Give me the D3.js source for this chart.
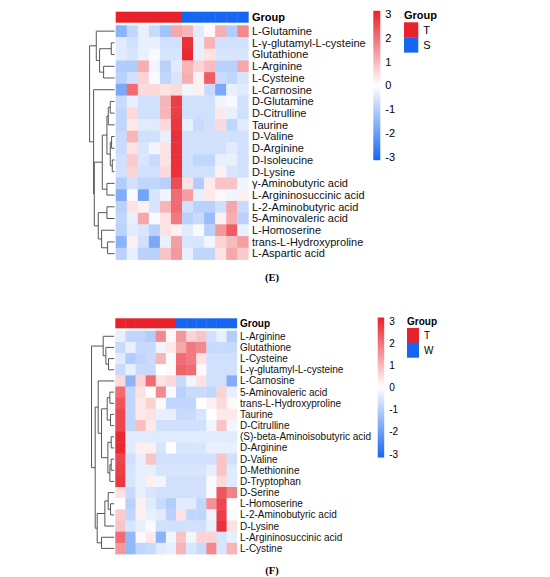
<!DOCTYPE html>
<html>
<head>
<meta charset="utf-8">
<script src="https://cdn.jsdelivr.net/npm/d3@7"></script>
<style>
  body { margin: 0; background: #fff; }
  svg { display: block; }
</style>
</head>
<body>
<div id="chart"></div>
<script>
// ---- panel E data ----
const rowsE = ['L-Glutamine', 'L-γ-glutamyl-L-cysteine', 'Glutathione', 'L-Arginine', 'L-Cysteine',
  'L-Carnosine', 'D-Glutamine', 'D-Citrulline', 'Taurine', 'D-Valine', 'D-Arginine', 'D-Isoleucine',
  'D-Lysine', 'γ-Aminobutyric acid', 'L-Argininosuccinic acid', 'L-2-Aminobutyric acid',
  '5-Aminovaleric acid', 'L-Homoserine', 'trans-L-Hydroxyproline', 'L-Aspartic acid'];
const groupE = ['T', 'T', 'T', 'T', 'T', 'T', 'S', 'S', 'S', 'S', 'S', 'S'];
const valuesE = [
  [-1.5, -0.8, -0.3, -0.7, -1.2, 1.2, 1.0, -0.4, 0.1, 1.1, -1.0, 1.6],
  [-0.4, -0.6, -0.3, -0.3, -0.6, -0.6, 2.8, -0.3, 1.0, -0.6, -0.6, -0.6],
  [-0.4, -0.5, -0.3, -0.1, -0.5, -0.5, 2.9, -0.3, 0.4, -0.5, -0.5, -0.5],
  [-1.0, -1.0, 1.1, -0.2, -0.9, -0.4, 1.0, 0.6, 0.9, -0.9, -0.9, 1.2],
  [-0.9, -0.6, 0.6, -0.1, -0.8, -0.5, 1.1, 0.2, 2.2, -0.7, -0.8, -0.5],
  [-1.7, 2.0, 0.5, 0.5, 0.4, 0.5, -0.2, 0.2, -0.7, -1.7, -0.3, -0.4],
  [-0.7, -0.3, -0.6, -0.6, 1.0, 2.6, -0.6, -0.6, -0.6, -0.2, -0.1, -0.6],
  [-0.8, 0.5, -0.6, -0.6, 1.0, 2.6, -0.6, -0.6, -0.6, 0.3, -0.3, -0.6],
  [-0.8, 0.3, -0.4, -0.4, 0.5, 2.7, -0.3, -0.7, -0.6, 0.5, -0.8, -0.4],
  [-0.7, 1.0, -0.6, -0.6, -0.3, 2.8, -0.6, -0.6, -0.6, -0.6, -0.6, -0.6],
  [-0.7, 0.4, -0.5, -0.2, 0.4, 2.8, -0.6, -0.6, -0.6, -0.6, -0.4, -0.6],
  [-0.6, 0.7, -0.5, -0.7, 0.4, 2.8, -0.6, -0.8, -0.8, -0.3, -0.3, -0.6],
  [-0.6, 0.6, -0.6, -0.6, 0.5, 2.8, -0.6, -0.6, -0.6, 0.2, -0.5, -0.6],
  [-1.0, -0.6, -0.8, -0.8, -0.9, 2.4, 0.4, -1.0, 0.3, 0.8, 0.8, -0.2],
  [-1.6, -0.1, -1.8, -0.5, -0.2, 2.0, 1.3, -0.3, 0.3, 0.1, -0.2, 0.2],
  [-0.9, 0.4, 0.2, -0.5, 1.0, 2.0, -0.6, -0.9, -0.9, -0.6, 1.2, -0.7],
  [-0.8, -0.3, 1.2, -0.1, 0.4, 1.8, -0.9, -0.7, -1.3, 0.2, 1.1, -0.9],
  [-0.9, -0.4, -0.5, -0.9, 0.4, 0.2, -0.4, -0.1, -0.9, 1.4, 2.2, -0.3],
  [-1.5, 0.2, -0.6, -1.7, -0.3, 1.3, -0.5, -0.5, -0.2, 0.6, 0.9, 1.3],
  [-0.9, -0.3, -0.9, -0.9, 0.8, 1.4, -0.3, -0.8, -0.8, 0.4, 1.2, 0.7]
];
// hclust-style merges: negative = leaf (1-based row), positive = earlier merge; third = height
const mergeE = [
  [-2, -3, 10], [-4, -5, 33], [1, 2, 45], [-1, 3, 55],
  [-7, -8, 13], [5, -9, 19], [-10, -11, 9], [-12, -13, 7], [7, 8, 13], [6, 9, 23],
  [-14, -15, 23], [10, 11, 37], [-16, -17, 23], [-19, -20, 21], [-18, 14, 39],
  [13, 15, 49], [12, 16, 61], [-6, 17, 63], [4, 18, 75]
];

// ---- panel F data ----
const rowsF = ['L-Arginine', 'Glutathione', 'L-Cysteine', 'L-γ-glutamyl-L-cysteine', 'L-Carnosine',
  '5-Aminovaleric acid', 'trans-L-Hydroxyproline', 'Taurine', 'D-Citrulline',
  '(S)-beta-Aminoisobutyric acid', 'D-Arginine', 'D-Valine', 'D-Methionine', 'D-Tryptophan',
  'D-Serine', 'L-Homoserine', 'L-2-Aminobutyric acid', 'D-Lysine', 'L-Argininosuccinic acid', 'L-Cystine'];
const groupF = ['T', 'T', 'T', 'T', 'T', 'T', 'W', 'W', 'W', 'W', 'W', 'W'];
const valuesF = [
  [-0.3, -0.8, -0.8, -1.0, 1.6, 0.1, 1.4, 0.6, 0.8, -0.6, -0.3, -1.0],
  [-0.7, -0.3, -0.7, -0.7, -0.2, 0.3, 1.2, 1.8, 1.6, -0.7, -0.7, -0.7],
  [-0.4, -1.0, -0.8, -0.7, 1.0, -0.1, 2.0, 1.8, 0.4, -0.6, -0.6, -0.6],
  [-0.7, -0.3, -0.7, -0.7, 0.0, 0.1, 2.1, 2.0, 0.1, -0.6, -0.6, -0.6],
  [0.5, -1.5, 0.6, 2.0, 0.4, 0.5, -0.7, -0.2, 0.4, -0.6, -0.6, -1.6],
  [2.0, -0.8, 0.4, 0.0, 1.6, -0.1, -0.9, -0.7, -0.7, -0.8, 0.6, -0.3],
  [2.3, -0.8, 0.3, 0.6, 0.1, -0.8, -0.8, -0.8, 0.0, 0.2, 0.5, 0.1],
  [2.5, -0.8, 0.3, 0.4, -0.3, -0.3, -0.7, -0.7, -0.5, 0.0, 0.3, 0.3],
  [2.5, -0.8, 0.9, 0.3, -0.6, -0.6, -0.6, -0.6, -0.6, -0.2, 0.8, -0.2],
  [2.9, -0.4, -0.4, -0.4, -0.4, -0.4, -0.4, -0.4, -0.4, -0.4, -0.4, -0.4],
  [2.9, -0.4, 0.2, 0.2, -0.5, 0.0, -0.5, -0.5, -0.5, -0.3, -0.3, -0.3],
  [2.5, -0.6, -0.3, 0.8, -0.6, -0.6, -0.6, -0.6, -0.6, -0.6, 0.8, -0.6],
  [2.6, -0.5, -0.3, -0.3, -0.5, -0.5, -0.5, -0.5, -0.5, -0.3, 0.8, -0.4],
  [2.7, -0.5, -0.3, 0.2, -0.2, -0.6, -0.6, -0.6, -0.6, -0.1, 0.5, -0.4],
  [0.4, -0.7, -0.3, -0.5, -0.6, -0.6, -0.6, -0.6, -0.6, -0.1, 2.3, 1.7],
  [0.0, -0.9, 0.2, -0.4, -0.7, -1.0, -0.4, -0.4, -0.8, 1.5, 2.5, 0.0],
  [0.7, -0.8, 0.2, -0.3, -0.4, -0.9, 0.4, -0.8, -0.8, -0.2, 2.6, -0.1],
  [0.8, -0.5, -0.3, -0.1, -0.6, -0.6, -0.6, -0.6, -0.6, -0.3, 2.8, 0.4],
  [2.0, -1.4, 0.1, 0.3, -1.5, -0.2, 0.8, -0.2, 0.6, 0.6, -0.5, -0.3],
  [1.4, -1.4, -0.8, -0.7, -0.4, -0.3, 1.0, -0.5, -0.7, 1.6, -0.5, 1.0]
];
const mergeF = [
  [-3, -4, 17], [-2, 1, 25], [-1, 2, 33],
  [-6, -7, 13], [-8, -9, 11], [4, 5, 21],
  [-10, -11, 9], [-12, -13, 9], [8, -14, 13], [7, 9, 19], [6, 10, 38], [-5, 11, 48],
  [-16, -17, 11], [-15, 13, 18], [14, -18, 28], [-19, -20, 38], [15, 16, 51],
  [12, 17, 57], [3, 18, 68]
];

const legendTicks = [3, 2, 1, 0, -1, -2, -3];

const RED = '#E8222B';
const BLUE = '#1766F2';
const groupColor = { T: RED, S: BLUE, W: BLUE };
const color = d3.scaleLinear().domain([-3, 0, 3]).range([BLUE, '#ffffff', RED]);

const svg = d3.select('#chart')
  .append('svg')
  .attr('width', 550)
  .attr('height', 577);

const defs = svg.append('defs');
const grad = defs.append('linearGradient')
  .attr('id', 'cbar')
  .attr('x1', 0).attr('y1', 1).attr('x2', 0).attr('y2', 0);
d3.range(0, 1.0001, 0.1).forEach(t => {
  grad.append('stop')
    .attr('offset', t)
    .attr('stop-color', color(-3 + 6 * t));
});

function drawPanel(cfg, rows, groups, values, merge, caption) {
  const g = svg.append('g');

  const x = d3.scaleBand().domain(d3.range(groups.length)).range([cfg.x0, cfg.x1]);
  const y = d3.scaleBand().domain(rows).range([cfg.y0, cfg.y1]);

  // annotation bar
  g.append('g').selectAll('rect')
    .data(groups)
    .join('rect')
    .attr('x', (d, i) => x(i))
    .attr('y', cfg.gy0)
    .attr('width', x.bandwidth() + 0.4)
    .attr('height', cfg.gy1 - cfg.gy0)
    .attr('fill', d => groupColor[d]);

  g.append('text')
    .attr('x', cfg.labelX)
    .attr('y', (cfg.gy0 + cfg.gy1) / 2)
    .attr('dy', '0.35em')
    .style('font', `bold ${cfg.font}px "Liberation Sans", Arial, sans-serif`)
    .text('Group');

  // cells
  const cells = [];
  values.forEach((row, r) => row.forEach((v, c) => cells.push({ r, c, v })));
  g.append('g').selectAll('rect')
    .data(cells)
    .join('rect')
    .attr('x', d => x(d.c))
    .attr('y', d => y(rows[d.r]))
    .attr('width', x.bandwidth() + 0.4)
    .attr('height', y.bandwidth() + 0.4)
    .attr('fill', d => color(d.v));

  // row labels
  g.append('g').selectAll('text')
    .data(rows)
    .join('text')
    .attr('x', cfg.labelX)
    .attr('y', d => y(d) + y.bandwidth() / 2)
    .attr('dy', '0.35em')
    .style('font', `${cfg.font}px "Liberation Sans", Arial, sans-serif`)
    .attr('fill', '#111')
    .text(d => d);

  // row dendrogram
  const hx = d3.scaleLinear().domain([0, 75]).range([cfg.leafX, cfg.leafX - 25]);
  const nodes = [];
  const pick = k => k < 0
    ? { y: y(rows[-k - 1]) + y.bandwidth() / 2, h: 0 }
    : nodes[k - 1];
  merge.forEach(([a, b, h]) => {
    const l = pick(a), r = pick(b);
    nodes.push({ y: (l.y + r.y) / 2, h, l, r });
  });
  g.append('g').selectAll('path')
    .data(nodes)
    .join('path')
    .attr('d', d => `M${hx(d.l.h)},${d.l.y}H${hx(d.h)}V${d.r.y}H${hx(d.r.h)}`)
    .attr('fill', 'none')
    .attr('stroke', '#444')
    .attr('stroke-width', 0.9);

  // colour key
  const ky = d3.scaleLinear().domain([-3, 3]).range([cfg.kb, cfg.kt]);
  g.append('rect')
    .attr('x', cfg.kx)
    .attr('y', ky(3) - cfg.kpad)
    .attr('width', cfg.kw)
    .attr('height', ky(-3) - ky(3) + 2 * cfg.kpad)
    .attr('fill', 'url(#cbar)');
  g.append('g').selectAll('text')
    .data(legendTicks)
    .join('text')
    .attr('x', cfg.kx + cfg.kw + 5)
    .attr('y', d => ky(d))
    .attr('dy', '0.35em')
    .style('font', `${cfg.font}px "Liberation Sans", Arial, sans-serif`)
    .text(d => d);

  // group legend
  const lev = Array.from(new Set(groups));
  g.append('text')
    .attr('x', cfg.lx)
    .attr('y', cfg.ly)
    .attr('dy', '0.35em')
    .style('font', `bold ${cfg.font}px "Liberation Sans", Arial, sans-serif`)
    .text('Group');
  g.append('g').selectAll('rect')
    .data(lev)
    .join('rect')
    .attr('x', cfg.lx)
    .attr('y', (d, i) => cfg.ly + cfg.lgap + i * cfg.lsz)
    .attr('width', cfg.lw)
    .attr('height', cfg.lsz + 0.3)
    .attr('fill', d => groupColor[d]);
  g.append('g').selectAll('text')
    .data(lev)
    .join('text')
    .attr('x', cfg.lx + cfg.lw + 5)
    .attr('y', (d, i) => cfg.ly + cfg.lgap + (i + 0.5) * cfg.lsz)
    .attr('dy', '0.35em')
    .style('font', `${cfg.font}px "Liberation Sans", Arial, sans-serif`)
    .text(d => d);

  // caption
  g.append('text')
    .attr('x', cfg.capX)
    .attr('y', cfg.capY)
    .attr('dy', '0.35em')
    .attr('text-anchor', 'middle')
    .style('font', 'bold 10.5px "Liberation Serif", "Times New Roman", serif')
    .text(caption);
}

drawPanel({
  x0: 115.7, x1: 248.3, gy0: 11.7, gy1: 22.7, y0: 25.3, y1: 259.5,
  labelX: 252, font: 11, leafX: 114.6,
  kx: 373.3, kw: 7, kt: 14.3, kb: 156.7, kpad: 3.5,
  lx: 404, ly: 15, lgap: 7.3, lsz: 15, lw: 14.3,
  capX: 272, capY: 277
}, rowsE, groupE, valuesE, mergeE, '(E)');

drawPanel({
  x0: 115.3, x1: 236.7, gy0: 318.3, gy1: 328.3, y0: 330.7, y1: 554,
  labelX: 240, font: 10, leafX: 114.2,
  kx: 377.7, kw: 6.5, kt: 321, kb: 454, kpad: 3.5,
  lx: 407, ly: 321.5, lgap: 6.5, lsz: 14.7, lw: 12,
  capX: 272, capY: 570
}, rowsF, groupF, valuesF, mergeF, '(F)');
</script>
</body>
</html>
